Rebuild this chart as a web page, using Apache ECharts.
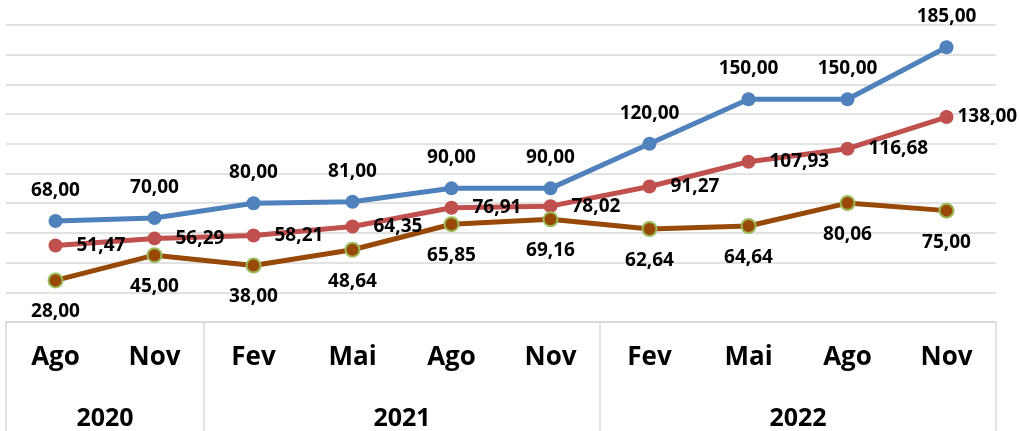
<!DOCTYPE html>
<html lang="pt">
<head>
    <meta charset="UTF-8">
    <title>Evolução trimestral</title>
    <script src="https://cdn.jsdelivr.net/npm/echarts@6/dist/echarts.min.js"></script>
</head>
<body style="margin:0;background:#fff;">
    <div id="main" style="width:1020px;height:431px;"></div>
    <script>
        // meses (nível 1 do eixo) e anos (nível 2, posicionados nas divisas)
        var meses = ['Ago', 'Nov', 'Fev', 'Mai', 'Ago', 'Nov', 'Fev', 'Mai', 'Ago', 'Nov'];
        var anos = ['', '2020', '', '', '2021', '', '', '', '2022', '', ''];
        var divisorias = [0, 2, 6, 10];

        var serieAzul = [68, 70, 80, 81, 90, 90, 120, 150, 150, 185];
        var serieVermelha = [51.47, 56.29, 58.21, 64.35, 76.91, 78.02, 91.27, 107.93, 116.68, 138];
        var serieMarrom = [28, 45, 38, 48.64, 65.85, 69.16, 62.64, 64.64, 80.06, 75];

        var fonte = 'Open Sans';
        var cinza = '#d9d9d9';

        function virgula(p) {
            return p.value.toFixed(2).replace('.', ',');
        }

        function rotulo(pos) {
            return {
                show: true,
                position: pos,
                distance: 14,
                formatter: virgula,
                fontFamily: fonte,
                fontWeight: 'bold',
                fontSize: 19,
                color: '#000'
            };
        }

        // o último rótulo vermelho fica mais colado ao ponto
        var dadosVermelha = serieVermelha.map(function (v, i) {
            if (i === serieVermelha.length - 1) {
                return { value: v, label: { distance: 4 } };
            }
            return v;
        });

        var myChart = echarts.init(document.getElementById('main'));

        myChart.setOption({
            animation: false,
            grid: [
                { left: 6, right: 24, top: 25, bottom: 109 },
                { left: 6, right: 24, top: 322, bottom: 0 }
            ],
            xAxis: [{
                gridIndex: 0,
                type: 'category',
                data: meses,
                boundaryGap: true,
                axisLine: { lineStyle: { color: cinza, width: 1.5 } },
                axisTick: { show: false },
                axisLabel: {
                    interval: 0,
                    margin: 23,
                    fontFamily: fonte,
                    fontWeight: 'bold',
                    fontSize: 26,
                    color: '#000'
                }
            }, {
                gridIndex: 1,
                type: 'category',
                data: anos,
                boundaryGap: false,
                axisLine: { show: false },
                axisTick: { show: false },
                axisLabel: {
                    inside: true,
                    interval: 0,
                    margin: 0,
                    fontFamily: fonte,
                    fontWeight: 'bold',
                    fontSize: 25,
                    color: '#000'
                },
                splitLine: {
                    show: true,
                    interval: function (i) { return divisorias.indexOf(i) >= 0; },
                    lineStyle: { color: cinza, width: 1.5 }
                }
            }],
            yAxis: [{
                gridIndex: 0,
                type: 'value',
                min: 0,
                max: 200,
                interval: 20,
                axisLabel: { show: false },
                axisLine: { show: false },
                axisTick: { show: false },
                splitLine: { lineStyle: { color: cinza, width: 1.5 } }
            }, {
                gridIndex: 1,
                type: 'value',
                show: false
            }],
            series: [{
                type: 'line',
                data: dadosVermelha,
                symbol: 'circle',
                symbolSize: 14,
                itemStyle: { color: '#c0504d', borderWidth: 0 },
                lineStyle: { color: '#c0504d', width: 5 },
                label: rotulo('right')
            }, {
                type: 'line',
                data: serieMarrom,
                symbol: 'circle',
                symbolSize: 14,
                itemStyle: { color: '#984807', borderColor: '#9bbb59', borderWidth: 2 },
                lineStyle: { color: '#984807', width: 5 },
                label: rotulo('bottom')
            }, {
                type: 'line',
                data: serieAzul,
                symbol: 'circle',
                symbolSize: 14,
                itemStyle: { color: '#4f81bd', borderWidth: 0 },
                lineStyle: { color: '#4f81bd', width: 5 },
                label: rotulo('top')
            }]
        });
    </script>
</body>
</html>
